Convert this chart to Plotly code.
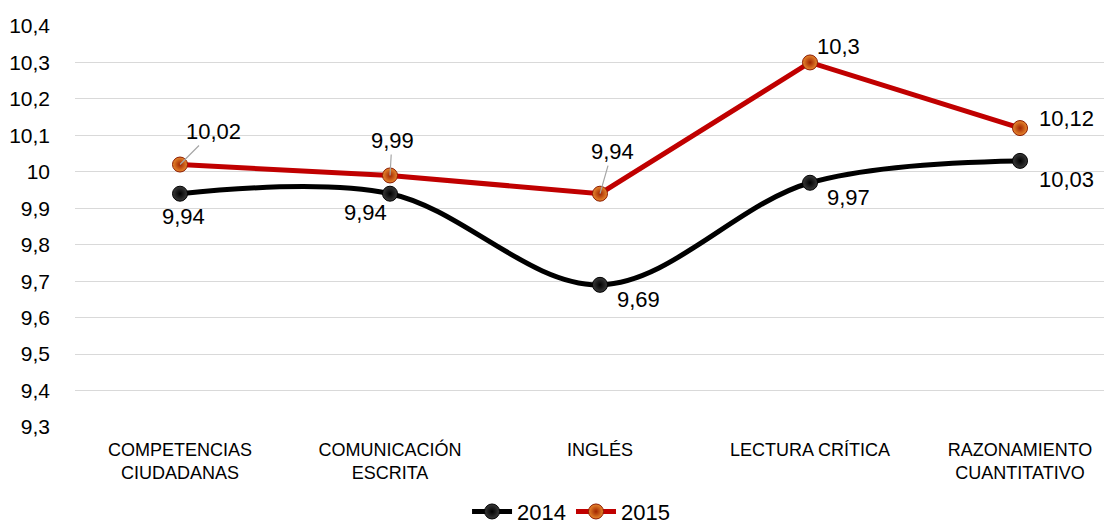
import plotly.graph_objects as go

categories = ["COMPETENCIAS<br>CIUDADANAS", "COMUNICACIÓN<br>ESCRITA", "INGLÉS",
              "LECTURA CRÍTICA", "RAZONAMIENTO<br>CUANTITATIVO"]
values_2014 = [9.94, 9.94, 9.69, 9.97, 10.03]
values_2015 = [10.02, 9.99, 9.94, 10.30, 10.12]
y_ticks = [9.3, 9.4, 9.5, 9.6, 9.7, 9.8, 9.9, 10.0, 10.1, 10.2, 10.3, 10.4]

def fmt(v):
    s = ("%.2f" % v).rstrip("0").rstrip(".")
    return s.replace(".", ",")

FONT = "Liberation Sans, Arial, sans-serif"
LABEL_SIZE = 22

fig = go.Figure()
fig.add_trace(go.Scatter(
    x=categories, y=values_2014, name="2014", mode="lines+markers",
    line=dict(color="#000000", width=5, shape="spline", smoothing=1.0),
    marker=dict(size=15, color="#3a3a3a", line=dict(color="#000000", width=1),
                gradient=dict(type="radial", color="#000000")),
))
fig.add_trace(go.Scatter(
    x=categories, y=values_2015, name="2015", mode="lines+markers",
    line=dict(color="#C00000", width=5),
    marker=dict(size=15, color="#E8892E", line=dict(color="#8B1A00", width=1),
                gradient=dict(type="radial", color="#A12400")),
))

# label offsets (pixels) relative to each point
off_2014 = [(3, 23), (-25, 19), (38, 15), (38, 15), (46, 19)]
off_2015 = [(33, -33), (2, -35), (12, -42), (28, -16), (46, -10)]
leader_2015 = [True, True, True, False, False]

annotations = []
for c, v, (dx, dy) in zip(categories, values_2014, off_2014):
    annotations.append(dict(x=c, y=v, xref="x", yref="y", text=fmt(v), showarrow=False,
                            xshift=dx, yshift=-dy,
                            font=dict(family=FONT, size=LABEL_SIZE, color="#000000")))
for c, v, (dx, dy), lead in zip(categories, values_2015, off_2015, leader_2015):
    if lead:
        annotations.append(dict(x=c, y=v, xref="x", yref="y", text=fmt(v), showarrow=True,
                                arrowhead=0, arrowwidth=1.2, arrowcolor="#a6a6a6",
                                ax=dx, ay=dy, standoff=0,
                                font=dict(family=FONT, size=LABEL_SIZE, color="#000000")))
    else:
        annotations.append(dict(x=c, y=v, xref="x", yref="y", text=fmt(v), showarrow=False,
                                xshift=dx, yshift=-dy,
                                font=dict(family=FONT, size=LABEL_SIZE, color="#000000")))

# page body has an 8px margin: figure is sized to fit the 1112x527 window
fig.update_layout(
    width=1104, height=519,
    margin=dict(l=67, r=0, t=18, b=100),
    paper_bgcolor="white", plot_bgcolor="white",
    font=dict(family=FONT, color="#000000"),
    showlegend=True,
    legend=dict(orientation="h", xref="container", yref="container",
                x=0.51, y=0.07, xanchor="center", yanchor="top",
                font=dict(family=FONT, size=22, color="#000000"),
                itemwidth=40, traceorder="normal"),
    annotations=annotations,
)
fig.update_xaxes(range=[-0.5, 4.438], showgrid=False, showline=False, zeroline=False,
                 tickfont=dict(family=FONT, size=18, color="#000000"), ticks="",
                 ticklabelstandoff=10)
fig.update_yaxes(range=[9.3, 10.4], tickvals=y_ticks, ticktext=[fmt(v) for v in y_ticks],
                 showgrid=True, gridcolor="#d9d9d9", gridwidth=1, zeroline=False,
                 showline=False, ticks="", ticklabelstandoff=24,
                 tickfont=dict(family=FONT, size=21, color="#000000"))

fig.write_html("out.html")
